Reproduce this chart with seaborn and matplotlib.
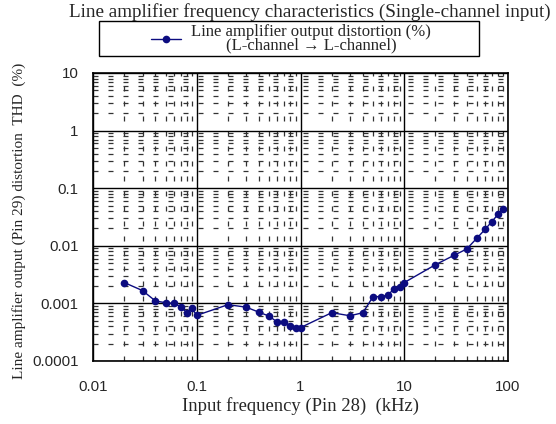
import numpy as np
import pandas as pd
import seaborn as sns
import matplotlib.pyplot as plt
from matplotlib.patches import Rectangle
from matplotlib.ticker import LogLocator, FixedLocator, NullFormatter

# data
freq_khz = [0.02, 0.03, 0.04, 0.05, 0.06, 0.07, 0.08, 0.09, 0.1,
            0.2, 0.3, 0.4, 0.5, 0.6, 0.7, 0.8, 0.9, 1,
            2, 3, 4, 5, 6, 7, 8, 9, 10,
            20, 30, 40, 50, 60, 70, 80, 90]
thd_pct = [0.0023, 0.00167, 0.0011, 0.00103, 0.001, 0.00088, 0.00069, 0.00082, 0.00062,
           0.00095, 0.00086, 0.0007, 0.0006, 0.00047, 0.00048, 0.000405, 0.00038, 0.00038,
           0.00069, 0.00061, 0.00069, 0.00131, 0.00131, 0.00141, 0.00181, 0.00194, 0.0023,
           0.0047, 0.0068, 0.0088, 0.0135, 0.0192, 0.0264, 0.035, 0.0434]
x_ticks = [0.01, 0.1, 1, 10, 100]
x_tick_labels = ["0.01", "0.1", "1", "10", "100"]
y_ticks = [0.0001, 0.001, 0.01, 0.1, 1, 10]
y_tick_labels = ["0.0001", "0.001", "0.01", "0.1", "1", "10"]
series_label = "Line amplifier output distortion (%)\n(L-channel \u2192 L-channel)"

df = pd.DataFrame({"freq": freq_khz, "thd": thd_pct})

sns.set_style("white")
serif = ["Liberation Serif", "DejaVu Serif"]
sans = ["Liberation Sans", "DejaVu Sans"]

fig = plt.figure(figsize=(5.56, 4.24), dpi=100)
ax = fig.add_axes([93 / 556, 1 - 361 / 424, 415 / 556, 288 / 424])

sns.lineplot(data=df, x="freq", y="thd", ax=ax, color="#0c0c80", marker="o",
             markersize=5.5, markeredgewidth=0, linewidth=1, label=series_label)

ax.set_xscale("log")
ax.set_yscale("log")
ax.set_xlim(0.01, 100)
ax.set_ylim(0.0001, 10)

ax.xaxis.set_major_locator(FixedLocator(x_ticks))
ax.yaxis.set_major_locator(FixedLocator(y_ticks))
ax.set_xticklabels(x_tick_labels, family=sans, fontsize=10.8)
ax.set_yticklabels(y_tick_labels, family=sans, fontsize=10.8)
ax.xaxis.set_minor_locator(LogLocator(base=10, subs=np.arange(2, 10)))
ax.yaxis.set_minor_locator(LogLocator(base=10, subs=np.arange(2, 10)))
ax.xaxis.set_minor_formatter(NullFormatter())
ax.yaxis.set_minor_formatter(NullFormatter())
ax.tick_params(which="both", length=0)
ax.tick_params(axis="x", pad=14)
ax.tick_params(axis="y", pad=10.5)

ax.grid(which="major", color="black", linewidth=1, linestyle="-")
ax.grid(which="minor", color="#333333", linewidth=0.9, linestyle=(0, (4, 8)))
ax.set_axisbelow(True)
for s in ax.spines.values():
    s.set_color("black")
    s.set_linewidth(1.2)

ax.set_xlabel("Input frequency (Pin 28)  (kHz)", family=serif, fontsize=13.4, labelpad=2)
ax.set_ylabel("Line amplifier output (Pin 29) distortion  THD  (%)", family=serif,
              fontsize=11)
ax.yaxis.set_label_coords(-67 / 415, 0.486)

fig.text(310 / 556, 1 - 12 / 424, "Line amplifier frequency characteristics (Single-channel input)",
         family=serif, fontsize=13.8, ha="center", va="center")

# legend: text without frame, box drawn to match the wide reference frame
leg = ax.legend(loc="center", bbox_to_anchor=(291 / 556, 1 - 38.5 / 424),
                bbox_transform=fig.transFigure, frameon=False, handlelength=1.8,
                handletextpad=0.6, prop={"family": serif, "size": 12})
for t in leg.get_texts():
    t.set_multialignment("center")
    t.set_linespacing(0.8)
fig.patches.append(Rectangle((99 / 556, 1 - 56 / 424), 380 / 556, 35 / 424,
                             transform=fig.transFigure, fill=False,
                             edgecolor="black", linewidth=1))

fig.savefig("out.png", dpi=100)
